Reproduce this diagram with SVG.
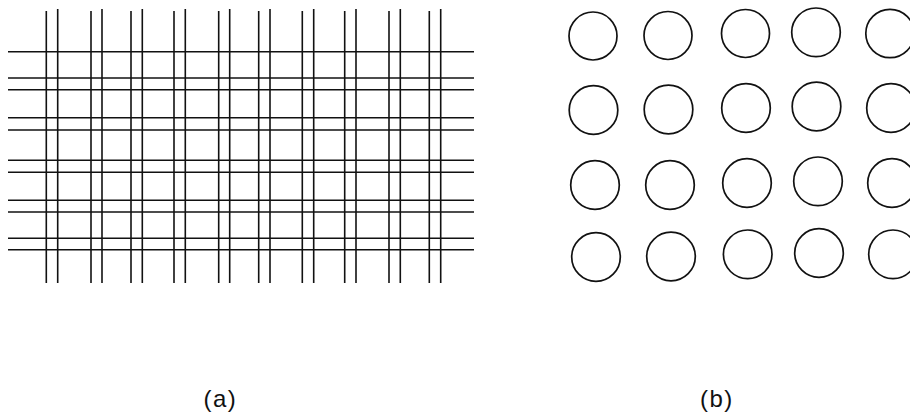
<svg xmlns="http://www.w3.org/2000/svg" width="910" height="419" viewBox="0 0 910 419">
<style>
.ln{stroke:#111;stroke-width:1.6;fill:none}
.c{stroke:#111;stroke-width:1.7;fill:none}
.lbl{font-family:"Liberation Sans",Arial,sans-serif;font-size:24px;letter-spacing:1.5px;fill:#111}
</style>
<rect width="910" height="419" fill="#fff"/>
<g id="grid">
<g id="verticals">
<line class="ln" x1="46.3" y1="11" x2="46.3" y2="283"/>
<line class="ln" x1="57.7" y1="9" x2="57.7" y2="283"/>
<line class="ln" x1="91" y1="11" x2="91" y2="283"/>
<line class="ln" x1="102" y1="9" x2="102" y2="283"/>
<line class="ln" x1="131" y1="11" x2="131" y2="283"/>
<line class="ln" x1="142.3" y1="9" x2="142.3" y2="283"/>
<line class="ln" x1="174" y1="11" x2="174" y2="283"/>
<line class="ln" x1="185.3" y1="9" x2="185.3" y2="283"/>
<line class="ln" x1="218.7" y1="11" x2="218.7" y2="283"/>
<line class="ln" x1="229.7" y1="9" x2="229.7" y2="283"/>
<line class="ln" x1="258.7" y1="11" x2="258.7" y2="283"/>
<line class="ln" x1="270" y1="9" x2="270" y2="283"/>
<line class="ln" x1="302.3" y1="11" x2="302.3" y2="283"/>
<line class="ln" x1="313.7" y1="9" x2="313.7" y2="283"/>
<line class="ln" x1="344.7" y1="11" x2="344.7" y2="283"/>
<line class="ln" x1="356" y1="9" x2="356" y2="283"/>
<line class="ln" x1="389" y1="11" x2="389" y2="283"/>
<line class="ln" x1="400.3" y1="9" x2="400.3" y2="283"/>
<line class="ln" x1="429.3" y1="11" x2="429.3" y2="283"/>
<line class="ln" x1="440.7" y1="9" x2="440.7" y2="283"/>
</g>
<g id="horizontals">
<line class="ln" x1="8" y1="51.7" x2="474" y2="51.7"/>
<line class="ln" x1="8" y1="78" x2="474" y2="78"/>
<line class="ln" x1="8" y1="89.7" x2="474" y2="89.7"/>
<line class="ln" x1="8" y1="117.7" x2="474" y2="117.7"/>
<line class="ln" x1="8" y1="130" x2="474" y2="130"/>
<line class="ln" x1="8" y1="160.3" x2="474" y2="160.3"/>
<line class="ln" x1="8" y1="172.3" x2="474" y2="172.3"/>
<line class="ln" x1="8" y1="200.3" x2="474" y2="200.3"/>
<line class="ln" x1="8" y1="212" x2="474" y2="212"/>
<line class="ln" x1="8" y1="238.3" x2="474" y2="238.3"/>
<line class="ln" x1="8" y1="249.7" x2="474" y2="249.7"/>
</g>
</g>
<g id="circles">
<circle class="c" cx="593" cy="36" r="24"/>
<circle class="c" cx="668" cy="35.5" r="24"/>
<circle class="c" cx="745.5" cy="33.5" r="24"/>
<circle class="c" cx="816" cy="32.3" r="24.3"/>
<circle class="c" cx="890" cy="33.5" r="24.2"/>
<circle class="c" cx="593.5" cy="110" r="24.3"/>
<circle class="c" cx="668.5" cy="109.5" r="24.3"/>
<circle class="c" cx="746" cy="108" r="24.3"/>
<circle class="c" cx="816.5" cy="106.5" r="24.3"/>
<circle class="c" cx="891" cy="108" r="24.3"/>
<circle class="c" cx="595" cy="185" r="24.3"/>
<circle class="c" cx="670" cy="185" r="24.3"/>
<circle class="c" cx="747" cy="183" r="24.3"/>
<circle class="c" cx="818" cy="181.3" r="24.3"/>
<circle class="c" cx="892" cy="183" r="24.3"/>
<circle class="c" cx="596" cy="257" r="24.3"/>
<circle class="c" cx="671" cy="256.5" r="24.3"/>
<circle class="c" cx="747.7" cy="254.3" r="24.3"/>
<circle class="c" cx="819" cy="253" r="24.3"/>
<circle class="c" cx="893" cy="254.3" r="24.3"/>
</g>
<g id="labels">
<text class="lbl" x="203.5" y="407">(a)</text>
<text class="lbl" x="700" y="407">(b)</text>
</g>
</svg>
